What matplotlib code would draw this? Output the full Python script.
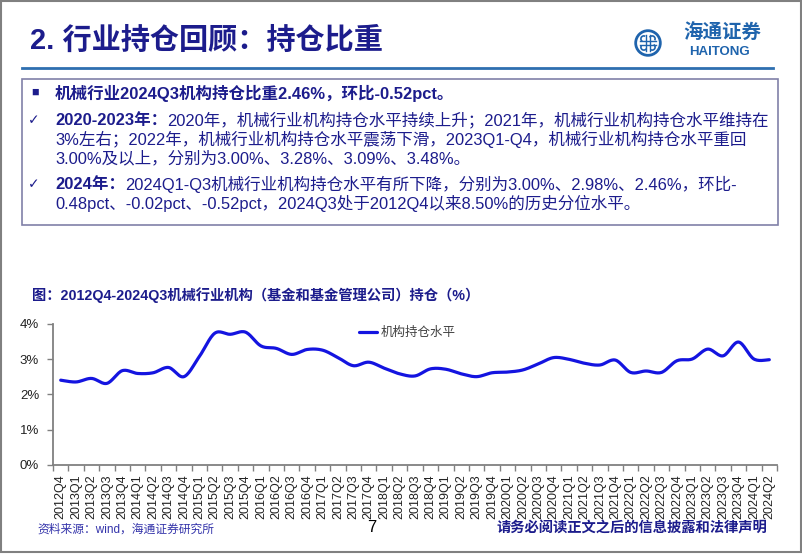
import numpy as np
import matplotlib
matplotlib.use("Agg")
import matplotlib.pyplot as plt
from matplotlib.patches import Rectangle, Circle, Arc
from matplotlib.lines import Line2D

plt.rcParams['font.family'] = ['Liberation Sans', 'Noto Sans CJK SC', 'DejaVu Sans']

W, H = 802, 554
NAVY = '#1c1c8c'
BLUE_LINE = '#1414e0'
LOGO = '#1f64ad'

# data
quarters = ['2012Q4'] + [f'{y}Q{q}' for y in range(2013, 2024) for q in range(1, 5)] + ['2024Q1', '2024Q2']
holding = [2.40, 2.35, 2.45, 2.31, 2.67, 2.59, 2.61, 2.76, 2.50, 3.07,
           3.73, 3.70, 3.76, 3.37, 3.30, 3.13, 3.27, 3.25, 3.04, 2.81,
           2.91, 2.74, 2.58, 2.52, 2.72, 2.71, 2.58, 2.50, 2.61, 2.63,
           2.69, 2.86, 3.04, 2.99, 2.88, 2.83, 2.97, 2.62, 2.66, 2.62,
           2.95, 3.00, 3.28, 3.09, 3.48, 3.00, 2.98]
yticks = [0, 1, 2, 3, 4]
series_name = '机构持仓水平'

title = '2. 行业持仓回顾：持仓比重'
chart_title = '图：2012Q4-2024Q3机械行业机构（基金和基金管理公司）持仓（%）'
# (bullet, [(text, weight), ...])
bullet_lines = [
    ('■', [('机械行业2024Q3机构持仓比重2.46%，环比-0.52pct。', 'bold')]),
    ('✓', [('2020-2023年：', 'bold'), ('2020年，机械行业机构持仓水平持续上升；2021年，机械行业机构持仓水平维持在', 'normal')]),
    ('', [('3%左右；2022年，机械行业机构持仓水平震荡下滑，2023Q1-Q4，机械行业机构持仓水平重回', 'normal')]),
    ('', [('3.00%及以上，分别为3.00%、3.28%、3.09%、3.48%。', 'normal')]),
    ('✓', [('2024年：', 'bold'), ('2024Q1-Q3机械行业机构持仓水平有所下降，分别为3.00%、2.98%、2.46%，环比-', 'normal')]),
    ('', [('0.48pct、-0.02pct、-0.52pct，2024Q3处于2012Q4以来8.50%的历史分位水平。', 'normal')]),
]
source = '资料来源：wind，海通证券研究所'
disclaimer = '请务必阅读正文之后的信息披露和法律声明'


def fx(x):
    return x / W


def fy(y):
    return 1 - y / H


def smooth(x, y, n=16):
    # catmull-rom through the points, like excel's smoothed line
    p = np.column_stack([x, y]).astype(float)
    out = []
    t = np.linspace(0, 1, n, endpoint=False)[:, None]
    for i in range(len(p) - 1):
        p0 = p[i - 1] if i > 0 else p[i]
        p1, p2 = p[i], p[i + 1]
        p3 = p[i + 2] if i + 2 < len(p) else p[i + 1]
        seg = 0.5 * ((2 * p1) + (-p0 + p2) * t + (2 * p0 - 5 * p1 + 4 * p2 - p3) * t ** 2
                     + (-p0 + 3 * p1 - 3 * p2 + p3) * t ** 3)
        out.append(seg)
    out.append(p[-1:])
    out = np.vstack(out)
    return out[:, 0], out[:, 1]


fig = plt.figure(figsize=(W / 100, H / 100), dpi=100)
renderer = fig.canvas.get_renderer()

# slide frame
fig.add_artist(Rectangle((fx(1), fy(552)), fx(800), 551 / H, transform=fig.transFigure,
                         fill=False, ec='#808080', lw=1.5))

# title + rule
fig.text(fx(30), fy(41), title, fontsize=21, fontweight='bold', color=NAVY, va='center')
fig.add_artist(Line2D([fx(22), fx(773)], [fy(68), fy(68)], color='#2e6fb0', lw=2))

# logo
ax_logo = fig.add_axes([fx(634), fy(57), 28 / W, 28 / H])
ax_logo.set_xlim(-1, 1)
ax_logo.set_ylim(-1, 1)
ax_logo.set_aspect('equal')
ax_logo.axis('off')
ax_logo.add_patch(Circle((0, 0), 0.88, fill=False, ec=LOGO, lw=2.0))
for dx in (-0.16, 0.16):
    ax_logo.plot([dx, dx], [-0.55, 0.55], color=LOGO, lw=1.0)
    ax_logo.plot([-0.55, 0.55], [dx, dx], color=LOGO, lw=1.0)
for ang in (0, 90, 180, 270):
    c = np.deg2rad(ang + 45)
    ax_logo.add_patch(Arc((0.42 * np.cos(c), 0.42 * np.sin(c)), 0.42, 0.42, theta1=ang - 30, theta2=ang + 150,
                          color=LOGO, lw=1.2))
fig.text(fx(722), fy(33), '海通证券', fontsize=14, color=LOGO, ha='center', va='center',
         style='italic', fontweight='bold')
fig.text(fx(719), fy(52), 'HAITONG', fontsize=9.5, color=LOGO, ha='center', va='center',
         fontweight='bold')

# text box
fig.add_artist(Rectangle((fx(22), fy(225)), 756 / W, 146 / H, transform=fig.transFigure,
                         fill=False, ec='#8080a8', lw=1.2))
line_y = [93, 120, 139.5, 159, 184, 203.5]
for y, (bullet, runs) in zip(line_y, bullet_lines):
    if bullet == '■':
        fig.text(fx(31), fy(y), bullet, fontsize=9, color=NAVY, va='center')
    elif bullet:
        fig.text(fx(28), fy(y), bullet, fontsize=10, color=NAVY, va='center', family='DejaVu Sans')
    x = 55
    for txt, wt in runs:
        t = fig.text(fx(x), fy(y), txt, fontsize=11.9, fontweight=wt, color=NAVY, va='center')
        x += t.get_window_extent(renderer).width

# chart
fig.text(fx(32), fy(295), chart_title, fontsize=10.3, fontweight='bold', color=NAVY, va='center')

ax = fig.add_axes([fx(53), fy(464.9), 724 / W, 141.2 / H])
xs = np.arange(len(holding))
sx, sy = smooth(xs, holding)
ax.plot(sx, sy, color=BLUE_LINE, lw=2.3, label=series_name, solid_capstyle='round')
ax.set_xlim(-0.5, len(holding) - 0.5)
ax.set_ylim(0, 4)
ax.set_yticks(yticks)
ax.set_yticklabels([f'{v}%' for v in yticks], fontsize=9.5, color='#222222')
ax.set_xticks(xs)
ax.set_xticklabels(quarters, rotation=90, fontsize=9, color='#222222')
ax.set_xticks(np.arange(-0.5, len(holding)), minor=True)
ax.tick_params(axis='x', which='major', length=0, pad=7)
ax.tick_params(axis='x', which='minor', length=4, color='#808080', width=1)
ax.tick_params(axis='y', length=4, color='#808080', width=1, pad=6)
for s in ('top', 'right'):
    ax.spines[s].set_visible(False)
for s in ('left', 'bottom'):
    ax.spines[s].set_color('#808080')
    ax.spines[s].set_linewidth(1.3)
leg = ax.legend(loc='center left', bbox_to_anchor=(fx(353), fy(333)), bbox_transform=fig.transFigure,
                frameon=False, fontsize=9, handlelength=1.4, handletextpad=0.3, borderpad=0)
for t in leg.get_texts():
    t.set_color('#404040')

# footer
fig.text(fx(37), fy(530), source, fontsize=8.5, color='#3333aa', va='center')
fig.text(fx(372), fy(527), '7', fontsize=12, color='black', ha='center', va='center')
fig.text(fx(767), fy(528), disclaimer, fontsize=10.3, fontweight='bold', color=NAVY, ha='right', va='center')

fig.savefig('out.png', dpi=100)
